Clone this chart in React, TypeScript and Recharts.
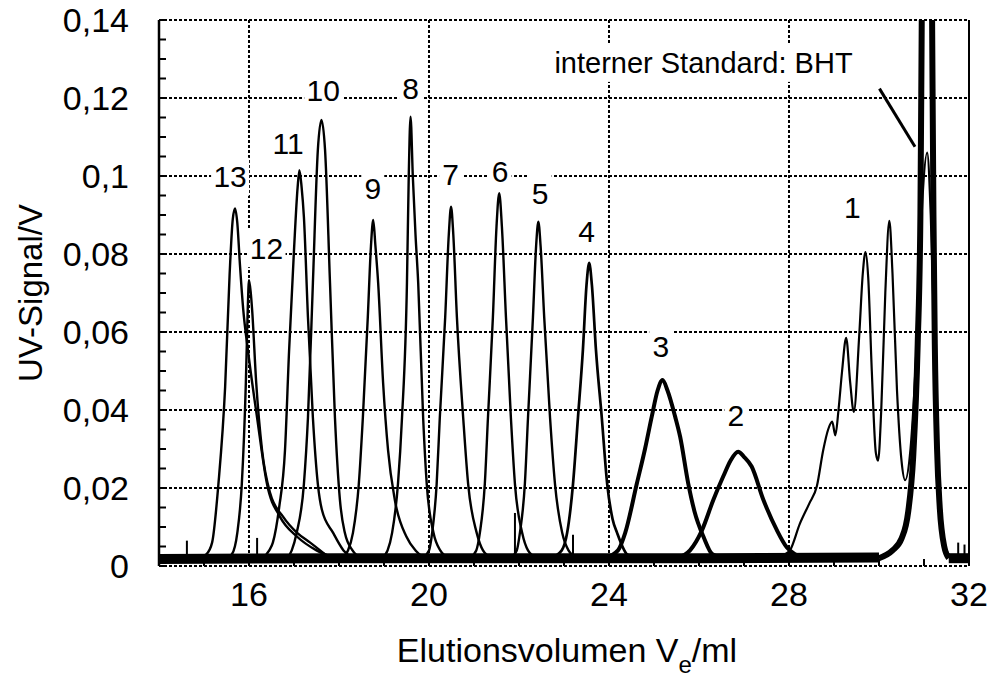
import React from "react";
import { LineChart, Line, XAxis, YAxis, CartesianGrid, ReferenceDot, ReferenceLine } from "recharts";

type Pt = [number, number];

// Elution volume (ml) / UV signal (V) pairs
const peak13: Pt[] = [[14.85, 0.002], [15.05, 0.003], [15.18, 0.006], [15.32, 0.021], [15.47, 0.046], [15.57, 0.075], [15.64, 0.089], [15.69, 0.0917], [15.74, 0.088], [15.8, 0.077], [15.87, 0.066], [15.98, 0.055], [16.18, 0.038], [16.4, 0.021], [16.69, 0.0126], [17.07, 0.0075], [17.5, 0.004], [17.9, 0.002]];
const peak12: Pt[] = [[15.5, 0.002], [15.62, 0.003], [15.74, 0.0085], [15.84, 0.021], [15.93, 0.047], [15.97, 0.065], [16.0, 0.0733], [16.04, 0.07], [16.07, 0.0656], [16.16, 0.047], [16.29, 0.0297], [16.47, 0.0187], [16.76, 0.0126], [17.07, 0.0085], [17.36, 0.006], [17.8, 0.002]];
const peak11: Pt[] = [[16.3, 0.002], [16.45, 0.004], [16.53, 0.006], [16.67, 0.015], [16.8, 0.0297], [16.89, 0.055], [17.0, 0.081], [17.08, 0.097], [17.12, 0.1015], [17.17, 0.097], [17.22, 0.0895], [17.31, 0.0638], [17.42, 0.038], [17.53, 0.021], [17.62, 0.0144], [17.87, 0.0085], [18.1, 0.004], [18.3, 0.002]];
const peak10: Pt[] = [[16.85, 0.002], [16.95, 0.004], [17.06, 0.0085], [17.22, 0.021], [17.31, 0.038], [17.42, 0.0726], [17.53, 0.1067], [17.61, 0.1144], [17.69, 0.1067], [17.8, 0.0726], [17.91, 0.038], [18.02, 0.017], [18.13, 0.0085], [18.3, 0.004], [18.5, 0.002]];
const peak9: Pt[] = [[18.05, 0.002], [18.2, 0.004], [18.31, 0.0085], [18.44, 0.021], [18.53, 0.038], [18.64, 0.0638], [18.71, 0.082], [18.76, 0.0887], [18.81, 0.082], [18.87, 0.0726], [18.98, 0.047], [19.09, 0.0297], [19.24, 0.017], [19.5, 0.0075], [19.7, 0.004], [19.9, 0.002]];
const peak8: Pt[] = [[18.95, 0.002], [19.08, 0.004], [19.18, 0.0085], [19.31, 0.021], [19.4, 0.038], [19.51, 0.0726], [19.55, 0.1], [19.59, 0.1152], [19.64, 0.1], [19.7, 0.085], [19.76, 0.0726], [19.87, 0.038], [19.95, 0.021], [20.1, 0.0085], [20.25, 0.004], [20.45, 0.002]];
const peak7: Pt[] = [[19.85, 0.002], [20.0, 0.004], [20.07, 0.0085], [20.17, 0.021], [20.24, 0.038], [20.36, 0.0638], [20.44, 0.085], [20.49, 0.0921], [20.54, 0.085], [20.62, 0.0638], [20.76, 0.038], [20.87, 0.021], [21.06, 0.0085], [21.2, 0.004], [21.4, 0.002]];
const peak6: Pt[] = [[20.9, 0.002], [21.05, 0.004], [21.13, 0.0085], [21.24, 0.021], [21.31, 0.038], [21.42, 0.0638], [21.5, 0.087], [21.56, 0.0956], [21.62, 0.087], [21.71, 0.0638], [21.82, 0.038], [21.91, 0.021], [22.07, 0.0085], [22.2, 0.004], [22.4, 0.002]];
const peak5: Pt[] = [[21.8, 0.002], [21.95, 0.004], [22.02, 0.0085], [22.13, 0.021], [22.2, 0.038], [22.31, 0.0638], [22.38, 0.082], [22.43, 0.0883], [22.48, 0.082], [22.56, 0.0638], [22.69, 0.038], [22.8, 0.021], [22.96, 0.0085], [23.1, 0.004], [23.3, 0.002]];
const peak4: Pt[] = [[22.7, 0.002], [22.95, 0.004], [23.07, 0.0085], [23.2, 0.021], [23.31, 0.038], [23.42, 0.0554], [23.5, 0.072], [23.56, 0.0777], [23.62, 0.072], [23.71, 0.0554], [23.84, 0.038], [23.96, 0.021], [24.08, 0.012], [24.18, 0.0085], [24.4, 0.003], [24.6, 0.002]];
const peak3: Pt[] = [[23.9, 0.002], [24.2, 0.004], [24.36, 0.0085], [24.62, 0.0212], [24.8, 0.03], [24.95, 0.0383], [25.08, 0.045], [25.19, 0.0477], [25.3, 0.045], [25.47, 0.0383], [25.58, 0.0332], [25.76, 0.0212], [25.9, 0.014], [26.1, 0.0075], [26.3, 0.003], [26.6, 0.002]];
const peak2: Pt[] = [[25.5, 0.002], [25.8, 0.004], [26.06, 0.009], [26.32, 0.017], [26.54, 0.023], [26.7, 0.027], [26.87, 0.0293], [27.0, 0.028], [27.17, 0.0255], [27.43, 0.017], [27.73, 0.0092], [27.95, 0.0048], [28.13, 0.003], [28.4, 0.002]];
const peak1: Pt[] = [[27.6, 0.002], [27.9, 0.003], [28.02, 0.004], [28.24, 0.0108], [28.45, 0.016], [28.62, 0.0205], [28.76, 0.0297], [28.87, 0.035], [28.96, 0.037], [29.03, 0.0335], [29.1, 0.04], [29.18, 0.05], [29.27, 0.0585], [29.36, 0.047], [29.44, 0.0395], [29.56, 0.059], [29.64, 0.075], [29.7, 0.0805], [29.76, 0.074], [29.84, 0.05], [29.93, 0.029], [29.98, 0.027], [30.05, 0.04], [30.14, 0.07], [30.23, 0.0885], [30.3, 0.075], [30.4, 0.045], [30.5, 0.027], [30.58, 0.022], [30.7, 0.03], [30.85, 0.06], [30.97, 0.095], [31.07, 0.106], [31.15, 0.09], [31.25, 0.05], [31.35, 0.02], [31.45, 0.006], [31.6, 0.002]];
const bht: Pt[] = [[30.0, 0.002], [30.3, 0.004], [30.5, 0.007], [30.65, 0.014], [30.76, 0.028], [30.86, 0.057], [30.92, 0.09], [30.95, 0.14], [31.07, 0.32], [31.18, 0.14], [31.21, 0.09], [31.24, 0.057], [31.29, 0.03], [31.35, 0.015], [31.45, 0.005], [31.55, 0.002]];
const baseLeft: Pt[] = [[14, 0.0018], [18, 0.002], [22, 0.002], [26, 0.002], [30.0, 0.0022]];
const baseRight: Pt[] = [[31.55, 0.002], [32, 0.002]];
const spikes: Pt[] = [[14.62, 0.0065], [16.18, 0.0072], [21.91, 0.0136], [23.2, 0.008], [31.76, 0.006], [31.9, 0.0055]];

const peakLabels = [
  { text: "13", x: 15.58, y: 0.0998 },
  { text: "12", x: 16.39, y: 0.0815 },
  { text: "11", x: 16.87, y: 0.1084 },
  { text: "10", x: 17.65, y: 0.122 },
  { text: "9", x: 18.75, y: 0.0968 },
  { text: "8", x: 19.59, y: 0.1225 },
  { text: "7", x: 20.48, y: 0.1003 },
  { text: "6", x: 21.58, y: 0.1011 },
  { text: "5", x: 22.47, y: 0.0956 },
  { text: "4", x: 23.5, y: 0.0857 },
  { text: "3", x: 25.15, y: 0.0562 },
  { text: "2", x: 26.82, y: 0.0387 },
  { text: "1", x: 29.41, y: 0.092 },
];

const xTicks = [14, 15, 16, 17, 18, 19, 20, 21, 22, 23, 24, 25, 26, 27, 28, 29, 30, 31, 32];
const xLabels = [16, 20, 24, 28, 32];
const yTicks = [0, 0.005, 0.01, 0.015, 0.02, 0.025, 0.03, 0.035, 0.04, 0.045, 0.05, 0.055, 0.06, 0.065, 0.07, 0.075, 0.08, 0.085, 0.09, 0.095, 0.1, 0.105, 0.11, 0.115, 0.12, 0.125, 0.13, 0.135, 0.14];
const yLabels = [0, 0.02, 0.04, 0.06, 0.08, 0.1, 0.12, 0.14];
const gridX = [16, 20, 24, 28];
const gridY = [0, 0.02, 0.04, 0.06, 0.08, 0.1, 0.12, 0.14];

const FONT = "'Liberation Sans', Arial, Helvetica, sans-serif";
const pts = (a: Pt[]) => a.map(([x, y]) => ({ x, y }));
const near = (list: number[], v: number) => list.some((t) => Math.abs(t - v) < 1e-9);

const traces = [
  { name: "13", data: peak13, w: 2.4 },
  { name: "12", data: peak12, w: 2.4 },
  { name: "11", data: peak11, w: 2.4 },
  { name: "10", data: peak10, w: 2.4 },
  { name: "9", data: peak9, w: 2.4 },
  { name: "8", data: peak8, w: 2.4 },
  { name: "7", data: peak7, w: 2.4 },
  { name: "6", data: peak6, w: 2.4 },
  { name: "5", data: peak5, w: 2.4 },
  { name: "4", data: peak4, w: 2.7 },
  { name: "3", data: peak3, w: 4 },
  { name: "2", data: peak2, w: 4 },
  { name: "1", data: peak1, w: 2.2 },
];

function Tag(props: any) {
  const { cx, cy, text, fs } = props;
  if (cx == null || cy == null) return null;
  const w = text.length * fs * 0.5 + 8;
  return (
    <g>
      <rect x={cx - w / 2} y={cy - 19} width={w} height={38} fill="#fff" />
      <text x={cx} y={cy} textAnchor="middle" dominantBaseline="central" fontSize={fs} fontFamily={FONT} fill="#000">
        {text}
      </text>
    </g>
  );
}

export default function App() {
  const tickStyle = { fontSize: 34, fill: "#000", fontFamily: FONT };
  return (
    <div style={{ position: "absolute", left: 0, top: 0, background: "#fff" }}>
      <LineChart width={989} height={681} margin={{ top: 0, right: 0, bottom: 0, left: 0 }}>
        <CartesianGrid horizontalValues={gridY} verticalValues={gridX} stroke="#000" strokeWidth={2} strokeDasharray="3 2" />
        <XAxis
          dataKey="x"
          type="number"
          domain={[14, 32]}
          allowDataOverflow
          ticks={xTicks}
          interval={0}
          height={115}
          tickSize={-7}
          tickMargin={23}
          axisLine={false}
          tickLine={{ stroke: "#000", strokeWidth: 2 }}
          tick={tickStyle}
          tickFormatter={(v: number) => (near(xLabels, v) ? String(v) : "")}
          label={(p: any) => {
            const vb = p.viewBox || { x: 159, width: 810 };
            return (
              <text x={vb.x + vb.width / 2 + 3} y={662} textAnchor="middle" fontSize={34} fontFamily={FONT} fill="#000">
                Elutionsvolumen V<tspan dy={11} fontSize={24}>e</tspan>
                <tspan dy={-11}>/ml</tspan>
              </text>
            );
          }}
        />
        <XAxis
          xAxisId="top"
          orientation="top"
          dataKey="x"
          type="number"
          domain={[14, 32]}
          allowDataOverflow
          ticks={xTicks}
          interval={0}
          height={20}
          tickSize={-7}
          axisLine={false}
          tickLine={{ stroke: "#000", strokeWidth: 2 }}
          tick={false}
        />
        <YAxis
          type="number"
          domain={[0, 0.14]}
          allowDataOverflow
          ticks={yTicks}
          interval={0}
          width={159}
          tickSize={-7}
          tickMargin={37}
          axisLine={{ stroke: "#000", strokeWidth: 2.5 }}
          tickLine={{ stroke: "#000", strokeWidth: 2 }}
          tick={tickStyle}
          tickFormatter={(v: number) => (near(yLabels, v) ? String(v).replace(".", ",") : "")}
          label={() => (
            <text x={30} y={293} transform="rotate(-90 30 293)" textAnchor="middle" dominantBaseline="central" fontSize={33} fontFamily={FONT} fill="#000">
              UV-Signal/V
            </text>
          )}
        />
        <YAxis
          yAxisId="right"
          orientation="right"
          type="number"
          domain={[0, 0.14]}
          allowDataOverflow
          ticks={yTicks}
          interval={0}
          width={20}
          tickSize={-7}
          axisLine={{ stroke: "#000", strokeWidth: 2 }}
          tickLine={{ stroke: "#000", strokeWidth: 2 }}
          tick={false}
        />
        <Line data={pts(baseLeft)} dataKey="y" type="linear" stroke="#000" strokeWidth={10} dot={false} isAnimationActive={false} />
        <Line data={pts(baseRight)} dataKey="y" type="linear" stroke="#000" strokeWidth={10} dot={false} isAnimationActive={false} />
        {spikes.map(([x, y], i) => (
          <Line key={"s" + i} data={pts([[x, 0.002], [x, y]])} dataKey="y" type="linear" stroke="#000" strokeWidth={2} dot={false} isAnimationActive={false} />
        ))}
        {traces.map((t) => (
          <Line key={t.name} data={pts(t.data)} dataKey="y" type="monotone" stroke="#000" strokeWidth={t.w} dot={false} isAnimationActive={false} />
        ))}
        <Line data={pts(bht)} dataKey="y" type="monotone" stroke="#000" strokeWidth={6} dot={false} isAnimationActive={false} />
        {peakLabels.map((l) => (
          <ReferenceDot key={l.text} x={l.x} y={l.y} r={0} ifOverflow="visible" shape={(p: any) => <Tag cx={p.cx} cy={p.cy} text={l.text} fs={30} />} />
        ))}
        <ReferenceDot x={26.1} y={0.129} r={0} ifOverflow="visible" shape={(p: any) => <Tag cx={p.cx} cy={p.cy} text="interner Standard: BHT" fs={29} />} />
        <ReferenceLine segment={[{ x: 30.01, y: 0.1224 }, { x: 30.8, y: 0.1075 }]} stroke="#000" strokeWidth={3} ifOverflow="visible" />
      </LineChart>
    </div>
  );
}
